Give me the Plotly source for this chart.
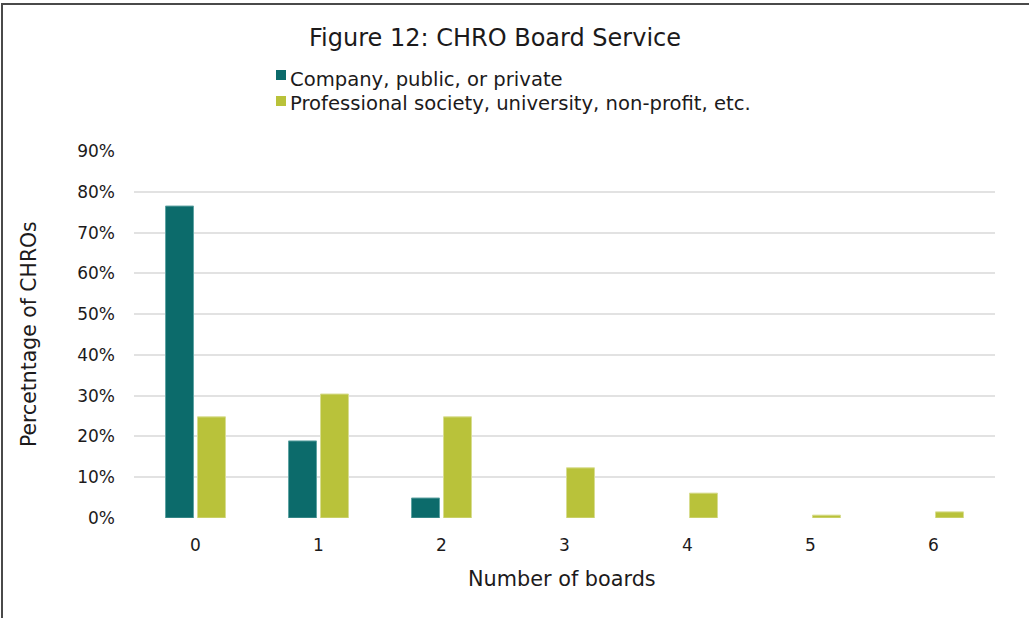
import plotly.graph_objects as go

categories = ["0", "1", "2", "3", "4", "5", "6"]
company = [0.765, 0.189, 0.049, None, None, None, None]
professional = [0.248, 0.304, 0.248, 0.123, 0.061, 0.007, 0.015]
yticks = [0, 0.1, 0.2, 0.3, 0.4, 0.5, 0.6, 0.7, 0.8, 0.9]
yticklabels = ["0%", "10%", "20%", "30%", "40%", "50%", "60%", "70%", "80%", "90%"]
series_names = ["Company, public, or private",
                "Professional society, university, non-profit, etc."]
series_colors = ["#0c6b6b", "#b9c23a"]
edge_colors = ["#5fa3a3", "#d8dd90"]

FONT = "DejaVu Sans"
TEXT = "#1c1a1b"
W, H = 1029, 618
L, R, T, B = 134, 34, 151, 100
pw, ph = W - L - R, H - T - B

def px_x(p):
    return (p - L) / pw

def px_y(p):
    return (H - B - p) / ph

fig = go.Figure()
for vals, name, col, edge in zip([company, professional], series_names, series_colors, edge_colors):
    fig.add_trace(go.Bar(x=categories, y=vals, name=name,
                         marker=dict(color=col, line=dict(color=edge, width=1))))

annotations = [
    dict(text="Figure 12: CHRO Board Service", x=px_x(495), y=px_y(38),
         xref="paper", yref="paper", showarrow=False,
         font=dict(size=24, color=TEXT), xanchor="center", yanchor="middle"),
    dict(text="Number of boards", x=px_x(562), y=px_y(579),
         xref="paper", yref="paper", showarrow=False,
         font=dict(size=20.8, color=TEXT), xanchor="center", yanchor="middle"),
    dict(text="Percetntage of CHROs", x=px_x(29), y=px_y(334),
         xref="paper", yref="paper", showarrow=False, textangle=-90,
         font=dict(size=20.4, color=TEXT), xanchor="center", yanchor="middle"),
]
shapes = [
    dict(type="rect", xref="paper", yref="paper", x0=px_x(2), x1=px_x(1060),
         y0=px_y(660), y1=px_y(4), line=dict(color="#4a4a4a", width=2),
         fillcolor="rgba(0,0,0,0)", layer="below"),
]
# legend drawn manually
legend_text_y = [80, 103]
legend_box_y = [70, 96]
for name, col, yt, yb in zip(series_names, series_colors, legend_text_y, legend_box_y):
    shapes.append(dict(type="rect", xref="paper", yref="paper",
                       x0=px_x(276), x1=px_x(286), y0=px_y(yb + 10), y1=px_y(yb),
                       fillcolor=col, line=dict(width=0)))
    annotations.append(dict(text=name, x=px_x(288), y=px_y(yt), xref="paper", yref="paper",
                            showarrow=False, xanchor="left", yanchor="middle",
                            font=dict(size=19.6, color=TEXT)))

fig.update_layout(
    width=W, height=H,
    margin=dict(l=L, r=R, t=T, b=B, pad=0),
    paper_bgcolor="white", plot_bgcolor="white",
    font=dict(family=FONT, color=TEXT, size=16),
    barmode="group", bargap=0.48, bargroupgap=0.125,
    showlegend=False,
    xaxis=dict(type="category", showgrid=False, showline=False, ticks="",
               tickfont=dict(size=17, color=TEXT), zeroline=False,
               ticklabelstandoff=15),
    yaxis=dict(range=[0, 0.9], tickvals=yticks, ticktext=yticklabels,
               showgrid=True, gridcolor="#e2e2e2", gridwidth=1.5,
               zeroline=False, showline=False, ticks="",
               tickfont=dict(size=17, color=TEXT), ticklabelstandoff=18),
    annotations=annotations,
    shapes=shapes,
)

fig.write_html("out.html", config={"displayModeBar": False},
               post_script="document.body.style.margin='0';")
